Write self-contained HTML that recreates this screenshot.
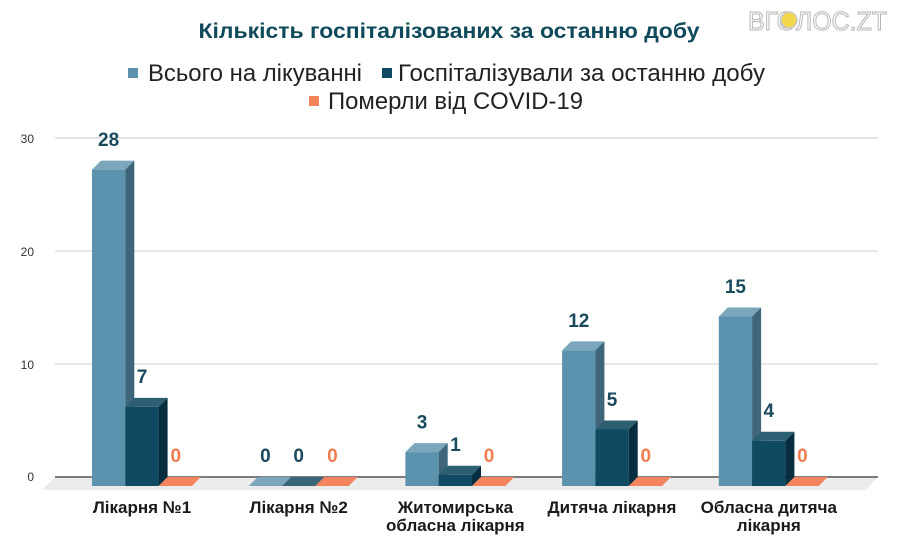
<!DOCTYPE html>
<html>
<head>
<meta charset="utf-8">
<style>
html,body{margin:0;padding:0;background:#fff;}
svg{display:block;}
</style>
</head>
<body>
<svg width="898" height="560" viewBox="0 0 898 560" xmlns="http://www.w3.org/2000/svg" font-family="'Liberation Sans', Arial, sans-serif">
<rect width="898" height="560" fill="#fff"/>

<!-- logo -->
<text x="748" y="30" font-size="26" fill="#fff" stroke="#b5b5b5" stroke-width="1" textLength="139" lengthAdjust="spacingAndGlyphs">ВГОЛОС.ZT</text>
<circle cx="789" cy="20" r="8" fill="#f2d64b" stroke="#c9c9c9" stroke-width="1.5"/>

<!-- title -->
<text x="449" y="38" text-anchor="middle" font-size="21" font-weight="bold" fill="#0f4a5c" textLength="501" lengthAdjust="spacingAndGlyphs">Кількість госпіталізованих за останню добу</text>

<!-- legend -->
<rect x="128" y="68" width="10" height="10" fill="#5b92ae"/>
<text x="148" y="81" font-size="24" fill="#222" textLength="214" lengthAdjust="spacingAndGlyphs">Всього на лікуванні</text>
<rect x="382" y="68" width="10" height="10" fill="#0f4a62"/>
<text x="398" y="81" font-size="24" fill="#222" textLength="367" lengthAdjust="spacingAndGlyphs">Госпіталізували за останню добу</text>
<rect x="309" y="96" width="10" height="10" fill="#f4825a"/>
<text x="328" y="109" font-size="24" fill="#222" textLength="255" lengthAdjust="spacingAndGlyphs">Померли від COVID-19</text>

<!-- floor -->
<polygon points="55,477 878,477 866,490 42,490" fill="#ebebeb"/>

<!-- gridlines -->
<g stroke="#cccccc" stroke-width="1">
<line x1="55" y1="138" x2="878" y2="138"/>
<line x1="55" y1="251" x2="878" y2="251"/>
<line x1="55" y1="364" x2="878" y2="364"/>
</g>
<line x1="55" y1="477" x2="878" y2="477" stroke="#333" stroke-width="1.2"/>

<!-- y labels -->
<g font-size="12" fill="#333" text-anchor="end">
<text x="34" y="143">30</text>
<text x="34" y="256">20</text>
<text x="34" y="369">10</text>
<text x="34" y="481">0</text>
</g>

<!-- bars group 1 -->
<rect x="92" y="169.6" width="33.3" height="316.4" fill="#5b92ae"/>
<polygon points="92,169.6 101,160.6 134.3,160.6 125.3,169.6" fill="#7ba6bc"/>
<polygon points="125.3,169.6 134.3,160.6 134.3,477 125.3,486" fill="#3e6579"/>
<rect x="125.3" y="406.9" width="33.3" height="79.1" fill="#0f4a62"/>
<polygon points="125.3,406.9 134.3,397.9 167.6,397.9 158.6,406.9" fill="#2d5f73"/>
<polygon points="158.6,406.9 167.6,397.9 167.6,477 158.6,486" fill="#072e3e"/>
<polygon points="158.6,486 167.6,477 200.9,477 191.9,486" fill="#f4845e"/>

<!-- group 2 -->
<polygon points="248.7,486 257.7,477 291,477 282,486" fill="#7ba6bc"/>
<polygon points="282,486 291,477 324.3,477 315.3,486" fill="#3a6679"/>
<polygon points="315.3,486 324.3,477 357.6,477 348.6,486" fill="#f4845e"/>

<!-- group 3 -->
<rect x="405.4" y="452.1" width="33.3" height="33.9" fill="#5b92ae"/>
<polygon points="405.4,452.1 414.4,443.1 447.7,443.1 438.7,452.1" fill="#7ba6bc"/>
<polygon points="438.7,452.1 447.7,443.1 447.7,477 438.7,486" fill="#3e6579"/>
<rect x="438.7" y="474.7" width="33.3" height="11.3" fill="#0f4a62"/>
<polygon points="438.7,474.7 447.7,465.7 481,465.7 472,474.7" fill="#2d5f73"/>
<polygon points="472,474.7 481,465.7 481,477 472,486" fill="#072e3e"/>
<polygon points="472,486 481,477 514.3,477 505.3,486" fill="#f4845e"/>

<!-- group 4 -->
<rect x="562.1" y="350.4" width="33.3" height="135.6" fill="#5b92ae"/>
<polygon points="562.1,350.4 571.1,341.4 604.4,341.4 595.4,350.4" fill="#7ba6bc"/>
<polygon points="595.4,350.4 604.4,341.4 604.4,477 595.4,486" fill="#3e6579"/>
<rect x="595.4" y="429.5" width="33.3" height="56.5" fill="#0f4a62"/>
<polygon points="595.4,429.5 604.4,420.5 637.7,420.5 628.7,429.5" fill="#2d5f73"/>
<polygon points="628.7,429.5 637.7,420.5 637.7,477 628.7,486" fill="#072e3e"/>
<polygon points="628.7,486 637.7,477 671,477 662,486" fill="#f4845e"/>

<!-- group 5 -->
<rect x="718.8" y="316.5" width="33.3" height="169.5" fill="#5b92ae"/>
<polygon points="718.8,316.5 727.8,307.5 761.1,307.5 752.1,316.5" fill="#7ba6bc"/>
<polygon points="752.1,316.5 761.1,307.5 761.1,477 752.1,486" fill="#3e6579"/>
<rect x="752.1" y="440.8" width="33.3" height="45.2" fill="#0f4a62"/>
<polygon points="752.1,440.8 761.1,431.8 794.4,431.8 785.4,440.8" fill="#2d5f73"/>
<polygon points="785.4,440.8 794.4,431.8 794.4,477 785.4,486" fill="#072e3e"/>
<polygon points="785.4,486 794.4,477 827.7,477 818.7,486" fill="#f4845e"/>

<!-- value labels -->
<g font-size="19" font-weight="bold" text-anchor="middle" fill="#1a4a5d">
<text x="108.6" y="146">28</text>
<text x="142" y="383">7</text>
<text x="265.4" y="462">0</text>
<text x="298.7" y="462">0</text>
<text x="422" y="428.5">3</text>
<text x="455.4" y="451">1</text>
<text x="578.8" y="326.8">12</text>
<text x="612" y="406">5</text>
<text x="735.4" y="293">15</text>
<text x="768.8" y="417">4</text>
</g>
<g font-size="19" font-weight="bold" text-anchor="middle" fill="#f07d50">
<text x="175.8" y="462">0</text>
<text x="332.4" y="462">0</text>
<text x="489" y="462">0</text>
<text x="645.8" y="462">0</text>
<text x="802.4" y="462">0</text>
</g>

<!-- category labels -->
<g font-size="17" font-weight="bold" text-anchor="middle" fill="#1a1a1a">
<text x="142" y="513">Лікарня №1</text>
<text x="298.7" y="513">Лікарня №2</text>
<text x="455.4" y="513">Житомирська</text>
<text x="455.4" y="531">обласна лікарня</text>
<text x="612" y="513">Дитяча лікарня</text>
<text x="768.8" y="513">Обласна дитяча</text>
<text x="768.8" y="531">лікарня</text>
</g>
</svg>
</body>
</html>
